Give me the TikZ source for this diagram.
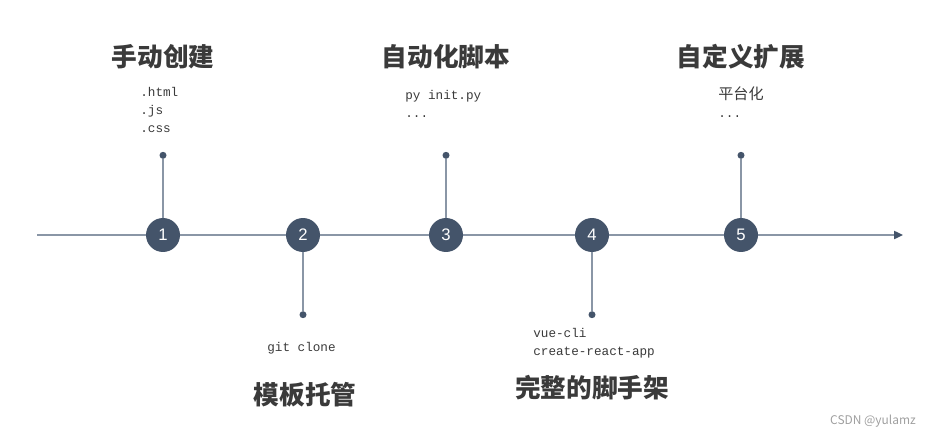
\documentclass[tikz,border=0pt]{standalone}
\usepackage{fontspec}
\setmainfont{Liberation Sans}
\newfontfamily\cjkfont{Noto Sans CJK SC}
\newfontfamily\codefont{Liberation Mono}
\usepackage{tikz}
\usetikzlibrary{positioning}
\usetikzlibrary{arrows.meta}
\definecolor{slate}{RGB}{68,84,106}
\definecolor{axisgray}{RGB}{138,150,166}
\definecolor{txtgray}{RGB}{58,58,58}

\begin{document}
\begin{tikzpicture}[x=0.02cm, y=-0.02cm,
  num/.style={circle, fill=slate, minimum size=0.68cm, inner sep=0, text=white, font=\fontsize{9.5}{10}\selectfont},
  dot/.style={circle, fill=slate, minimum size=0.14cm, inner sep=0},
  stem/.style={draw=axisgray, line width=1.1pt},
  arrow/.style={-{Triangle[length=5pt, width=4.5pt, color=slate]}, draw=axisgray, line width=1.1pt},
  title/.style={text=txtgray, font=\fontsize{14.6}{16}\cjkfont\bfseries},
  code/.style={text=txtgray, align=left, inner sep=0, anchor=base west, font=\fontsize{7.2}{10.2}\codefont}
]
\useasboundingbox (0,0) rectangle (937,436);

\coordinate (ax0) at (37,235);
\coordinate (ax1) at (903,235);
\draw[arrow] (ax0) -- (ax1);

\node[num] (n1) at (163,235) {1};
\node[num] (n2) at (303,235) {2};
\node[num] (n3) at (446,235) {3};
\node[num] (n4) at (592,235) {4};
\node[num] (n5) at (741,235) {5};

\node[dot, above=1.17cm of n1] (d1) {};
\node[dot, below=1.17cm of n2] (d2) {};
\node[dot, above=1.17cm of n3] (d3) {};
\node[dot, below=1.17cm of n4] (d4) {};
\node[dot, above=1.17cm of n5] (d5) {};

\draw[stem] (n1) -- (d1);
\draw[stem] (n2) -- (d2);
\draw[stem] (n3) -- (d3);
\draw[stem] (n4) -- (d4);
\draw[stem] (n5) -- (d5);

\node[title] (t1) at (163,57) {手动创建};
\node[title] (t2) at (305,395) {模板托管};
\node[title] (t3) at (446,57) {自动化脚本};
\node[title] (t4) at (592,388) {完整的脚手架};
\node[title] (t5) at (741,57) {自定义扩展};

% base anchor sits on the last line
\node[code] (c1) at (140,132) {.html\\.js\\.css};
\node[code] (c2) at (267,351) {git clone};
\node[code] (c3) at (405,117) {py init.py\\...};
\node[code] (c4) at (533,355) {vue-cli\\create-react-app};
\node[code] (c5) at (718,117) {{\fontsize{8.6}{10.2}\cjkfont 平台化}\\...};

\node[text=gray!75, anchor=base east, font=\fontsize{6.8}{8}\cjkfont] (wm) at (922,424) {CSDN @yulamz};

\end{tikzpicture}
\end{document}
